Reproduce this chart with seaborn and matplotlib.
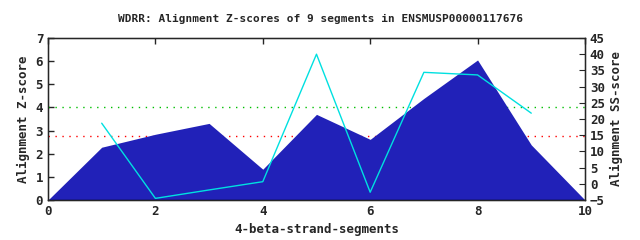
import matplotlib
matplotlib.use("Agg")
import matplotlib.pyplot as plt
import seaborn as sns
import pandas as pd

sns.set_style("white")
plt.rcParams['font.family'] = ['DejaVu Sans Mono']
plt.rcParams['font.weight'] = 'bold'

seg_x = [0, 1, 2, 3, 4, 5, 6, 7, 8, 9, 10]
z_scores = [0, 2.28, 2.84, 3.31, 1.33, 3.70, 2.62, 4.39, 6.05, 2.38, 0]
ss_x = [1, 2, 3, 4, 5, 6, 7, 8, 9]
ss_scores = [18.7, -4.5, -1.9, 0.65, 40.0, -2.6, 34.4, 33.6, 21.8]
thresh_green = 4.0
thresh_red = 2.75

fig = plt.figure(figsize=(6.4, 2.4), dpi=100)
ax = fig.add_axes([0.075, 0.1667, 0.839, 0.675])
ax.axhline(thresh_green, color='#00c000', linestyle=(0, (1, 4)), linewidth=1, zorder=1)
ax.axhline(thresh_red, color='#ff0000', linestyle=(0, (1, 4)), linewidth=1, zorder=1)
ax.fill_between(seg_x, z_scores, 0, color='#2121b8', linewidth=0, zorder=2)
ax.set_xlim(0, 10)
ax.set_ylim(0, 7)
ax.set_xticks([0, 2, 4, 6, 8, 10])
ax.set_yticks(range(0, 8))
ax.set_xlabel('4-beta-strand-segments', fontsize=9, fontweight='bold')
ax.set_ylabel('Alignment Z-score', fontsize=9, fontweight='bold')
ax.tick_params(direction='in', top=True, length=4, labelsize=9, width=1)
for s in ax.spines.values():
    s.set_color('black')
    s.set_linewidth(1)

ax2 = ax.twinx()
df = pd.DataFrame({'x': ss_x, 'ss': ss_scores})
sns.lineplot(data=df, x='x', y='ss', ax=ax2, color='#00e0e0', linewidth=1)
ax2.set_ylim(-5, 45)
ax2.set_yticks(range(-5, 50, 5))
ax2.set_ylabel('Alignment SS-score', fontsize=9, fontweight='bold')
ax2.set_xlabel('')
ax2.tick_params(direction='in', length=4, labelsize=9)
ax.set_xlim(0, 10)

fig.suptitle('WDRR: Alignment Z-scores of 9 segments in ENSMUSP00000117676',
             fontsize=8, fontweight='bold', y=0.94)
fig.savefig('out.png', dpi=100)
